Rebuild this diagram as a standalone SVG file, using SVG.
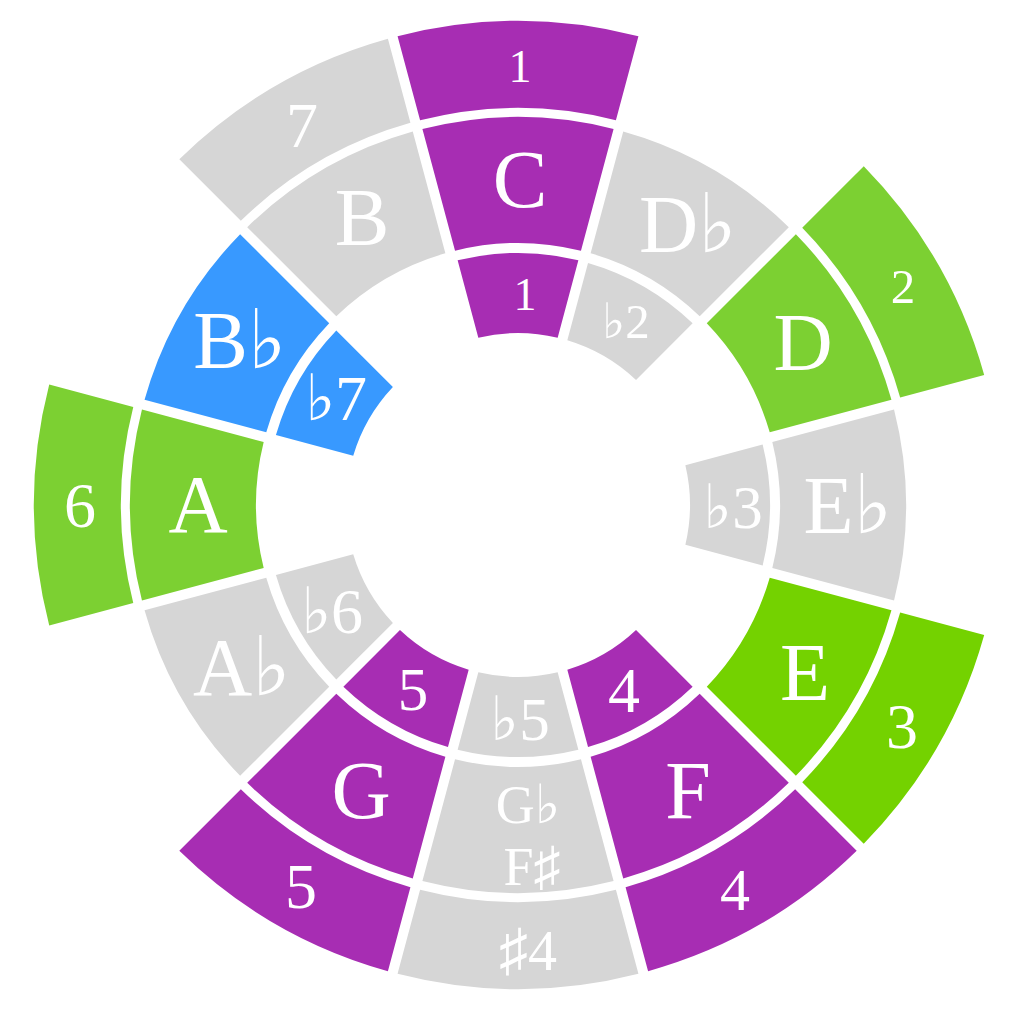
<svg xmlns="http://www.w3.org/2000/svg" width="1024" height="1024" viewBox="0 0 1024 1024">
<style>
.pu{fill:#a72db3}.gr{fill:#d6d6d6}.gn{fill:#7cd032}.gn2{fill:#74d200}.bl{fill:#3899ff}
text{fill:#ffffff;font-family:"Liberation Serif","DejaVu Serif","DejaVu Sans",serif;text-anchor:middle}
.m{font-size:82px}
</style>
<defs>
<path id="inner" d="M -60.379 -244.659 A 252 252 0 0 1 60.379 -244.659 L 39.668 -167.363 A 172 172 0 0 0 -39.668 -167.363 Z"/>
<path id="mid" d="M -95.583 -376.042 A 388 388 0 0 1 95.583 -376.042 L 62.968 -254.320 A 262 262 0 0 0 -62.968 -254.320 Z"/>
<path id="outer" d="M -120.432 -468.777 A 484 484 0 0 1 120.432 -468.777 L 97.913 -384.737 A 397 397 0 0 0 -97.913 -384.737 Z"/>
</defs>
<rect width="1024" height="1024" fill="#ffffff"/>
<g id="ring-outer">
<g id="o-1"><use href="#outer" class="pu" transform="translate(518 505) rotate(0)"/><text x="520" y="82" font-size="46">1</text></g>
<g id="o-2"><use href="#outer" class="gn" transform="translate(518 505) rotate(60)"/><text x="903" y="303" font-size="49">2</text></g>
<g id="o-3"><use href="#outer" class="gn2" transform="translate(518 505) rotate(120)"/><text x="902" y="748" font-size="64">3</text></g>
<g id="o-4"><use href="#outer" class="pu" transform="translate(518 505) rotate(150)"/><text x="735" y="910" font-size="60">4</text></g>
<g id="o-s4"><use href="#outer" class="gr" transform="translate(518 505) rotate(180)"/><text x="528" y="970" font-size="58">♯4</text></g>
<g id="o-5"><use href="#outer" class="pu" transform="translate(518 505) rotate(210)"/><text x="301" y="908" font-size="64">5</text></g>
<g id="o-6"><use href="#outer" class="gn" transform="translate(518 505) rotate(270)"/><text x="80" y="527" font-size="64">6</text></g>
<g id="o-7"><use href="#outer" class="gr" transform="translate(518 505) rotate(330)"/><text x="302" y="147" font-size="64">7</text></g>
</g>
<g id="ring-notes">
<g id="n-C"><use href="#mid" class="pu" transform="translate(518 505) rotate(0)"/><text class="m" x="520" y="207">C</text></g>
<g id="n-Db"><use href="#mid" class="gr" transform="translate(518 505) rotate(30)"/><text class="m" x="688" y="252">D♭</text></g>
<g id="n-D"><use href="#mid" class="gn" transform="translate(518 505) rotate(60)"/><text class="m" x="803" y="370">D</text></g>
<g id="n-Eb"><use href="#mid" class="gr" transform="translate(518 505) rotate(90)"/><text class="m" x="848" y="533">E♭</text></g>
<g id="n-E"><use href="#mid" class="gn2" transform="translate(518 505) rotate(120)"/><text class="m" x="805" y="700">E</text></g>
<g id="n-F"><use href="#mid" class="pu" transform="translate(518 505) rotate(150)"/><text class="m" x="688" y="818">F</text></g>
<g id="n-Gb"><use href="#mid" class="gr" transform="translate(518 505) rotate(180)"/><text x="528" y="823" font-size="54">G♭</text><text x="532" y="885" font-size="54">F♯</text></g>
<g id="n-G"><use href="#mid" class="pu" transform="translate(518 505) rotate(210)"/><text class="m" x="361" y="818">G</text></g>
<g id="n-Ab"><use href="#mid" class="gr" transform="translate(518 505) rotate(240)"/><text class="m" x="242" y="695">A♭</text></g>
<g id="n-A"><use href="#mid" class="gn" transform="translate(518 505) rotate(270)"/><text class="m" x="198" y="532">A</text></g>
<g id="n-Bb"><use href="#mid" class="bl" transform="translate(518 505) rotate(300)"/><text class="m" x="240" y="368">B♭</text></g>
<g id="n-B"><use href="#mid" class="gr" transform="translate(518 505) rotate(330)"/><text class="m" x="362" y="245">B</text></g>
</g>
<g id="ring-inner">
<g id="i-1"><use href="#inner" class="pu" transform="translate(518 505) rotate(0)"/><text x="525" y="310" font-size="46">1</text></g>
<g id="i-b2"><use href="#inner" class="gr" transform="translate(518 505) rotate(30)"/><text x="626" y="338" font-size="49">♭2</text></g>
<g id="i-b3"><use href="#inner" class="gr" transform="translate(518 505) rotate(90)"/><text x="733" y="528" font-size="61">♭3</text></g>
<g id="i-4"><use href="#inner" class="pu" transform="translate(518 505) rotate(150)"/><text x="624" y="712" font-size="64">4</text></g>
<g id="i-b5"><use href="#inner" class="gr" transform="translate(518 505) rotate(180)"/><text x="520" y="740" font-size="61">♭5</text></g>
<g id="i-5"><use href="#inner" class="pu" transform="translate(518 505) rotate(210)"/><text x="413" y="710" font-size="61">5</text></g>
<g id="i-b6"><use href="#inner" class="gr" transform="translate(518 505) rotate(240)"/><text x="332" y="633" font-size="64">♭6</text></g>
<g id="i-b7"><use href="#inner" class="bl" transform="translate(518 505) rotate(300)"/><text x="336" y="420" font-size="64">♭7</text></g>
</g>
</svg>
